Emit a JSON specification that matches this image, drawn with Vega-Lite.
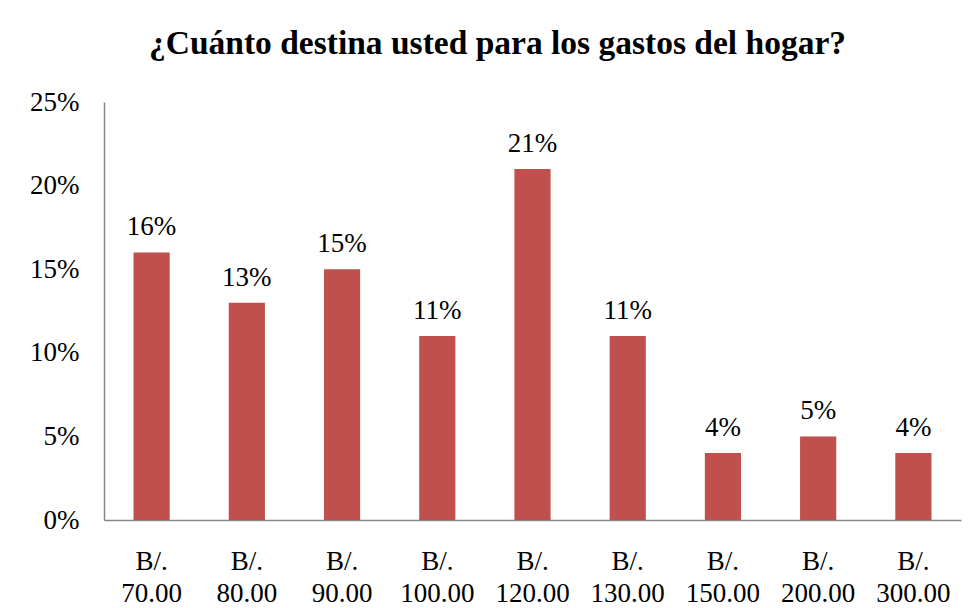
{
  "$schema": "https://vega.github.io/schema/vega-lite/v6.json",
  "width": 857,
  "height": 418,
  "autosize": {"type": "none"},
  "padding": {"left": 104, "top": 102, "right": 14, "bottom": 88},
  "background": "white",
  "config": {"view": {"stroke": null}},
  "title": {
    "text": "¿Cuánto destina usted para los gastos del hogar?",
    "font": "Liberation Serif",
    "fontSize": 33.5,
    "fontWeight": "bold",
    "color": "black",
    "anchor": "middle",
    "frame": "group",
    "dx": -35,
    "offset": 27
  },
  "data": {
    "values": [
      {"monto": "B/. 70.00", "pct": 0.16},
      {"monto": "B/. 80.00", "pct": 0.13},
      {"monto": "B/. 90.00", "pct": 0.15},
      {"monto": "B/. 100.00", "pct": 0.11},
      {"monto": "B/. 120.00", "pct": 0.21},
      {"monto": "B/. 130.00", "pct": 0.11},
      {"monto": "B/. 150.00", "pct": 0.04},
      {"monto": "B/. 200.00", "pct": 0.05},
      {"monto": "B/. 300.00", "pct": 0.04}
    ]
  },
  "encoding": {
    "x": {
      "field": "monto",
      "type": "nominal",
      "sort": null,
      "scale": {"paddingInner": 0.62, "paddingOuter": 0.31},
      "axis": {
        "title": null,
        "labelAngle": 0,
        "ticks": false,
        "domainColor": "#868686",
        "domainWidth": 1.5,
        "labelFont": "Liberation Serif",
        "labelFontSize": 27,
        "labelColor": "black",
        "labelPadding": 28,
        "labelLineHeight": 32,
        "labelExpr": "split(datum.label, ' ')"
      }
    },
    "y": {
      "field": "pct",
      "type": "quantitative",
      "scale": {"domain": [0, 0.25]},
      "axis": {
        "title": null,
        "values": [0, 0.05, 0.1, 0.15, 0.2, 0.25],
        "format": ".0%",
        "grid": false,
        "ticks": false,
        "domainColor": "#868686",
        "domainWidth": 1.5,
        "labelFont": "Liberation Serif",
        "labelFontSize": 27,
        "labelColor": "black",
        "labelPadding": 25
      }
    }
  },
  "layer": [
    {"mark": {"type": "bar", "color": "#C0504D"}},
    {
      "mark": {"type": "text", "font": "Liberation Serif", "fontSize": 27, "color": "black", "baseline": "alphabetic", "dy": -17},
      "encoding": {"text": {"field": "pct", "type": "quantitative", "format": ".0%"}}
    }
  ]
}
